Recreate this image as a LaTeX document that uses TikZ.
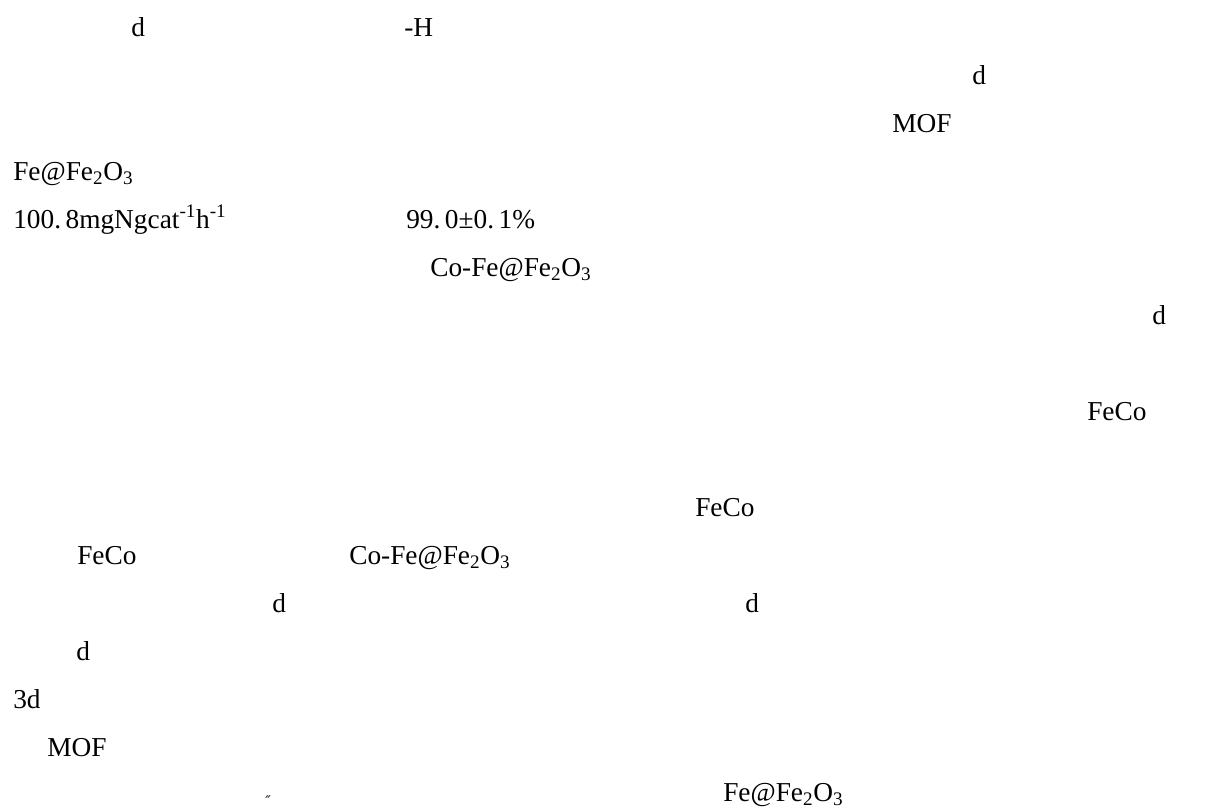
\documentclass[tikz,border=0pt]{standalone}
\usepackage{fontspec}
\setmainfont{Liberation Serif}
\newfontfamily\dittofont{DejaVu Serif}
\usetikzlibrary{positioning}

\tikzset{txt/.style={anchor=base west, inner sep=0pt, font=\fontsize{20.5}{24}\selectfont}}
\newcommand{\feox}{Fe@Fe\textsubscript{2}O\textsubscript{3}}

\begin{document}
\begin{tikzpicture}[x=0.75pt, y=-0.75pt]
\useasboundingbox (0,0) rectangle (1219,808);
\node(d1)[txt] at (131,36) {d};
\node(h1)[txt] at (404,36) {-H};
\node(d2)[txt] at (972,84) {d};
\node(mof1)[txt] at (892,132) {MOF};
\node(fe1)[txt] at (13,180) {\feox};
\node(rate)[txt] at (13,228) {100.\,8mgNgcat\textsuperscript{-1}h\textsuperscript{-1}};
\node(eff)[txt] at (406,228) {99.\,0±0.\,1\%};
\node(cofe1)[txt] at (430,276) {Co-\feox};
\node(d3)[txt] at (1152,324) {d};
\node(feco1)[txt] at (1087,420) {FeCo};
\node(feco2)[txt] at (695,516) {FeCo};
\node(feco3)[txt] at (77,564) {FeCo};
\node(cofe2)[txt] at (349,564) {Co-\feox};
\node(d4)[txt] at (272,612) {d};
\node(d5)[txt] at (745,612) {d};
\node(d6)[txt] at (76,660) {d};
\node(d7)[txt] at (13,708) {3d};
\node(mof2)[txt] at (47,756) {MOF};
\node(ditto)[inner sep=0pt, font=\dittofont\itshape\fontsize{11}{12}\selectfont] at (268,801) {″};
\node(fe2)[txt] at (723,801) {\feox};
\end{tikzpicture}
\end{document}
